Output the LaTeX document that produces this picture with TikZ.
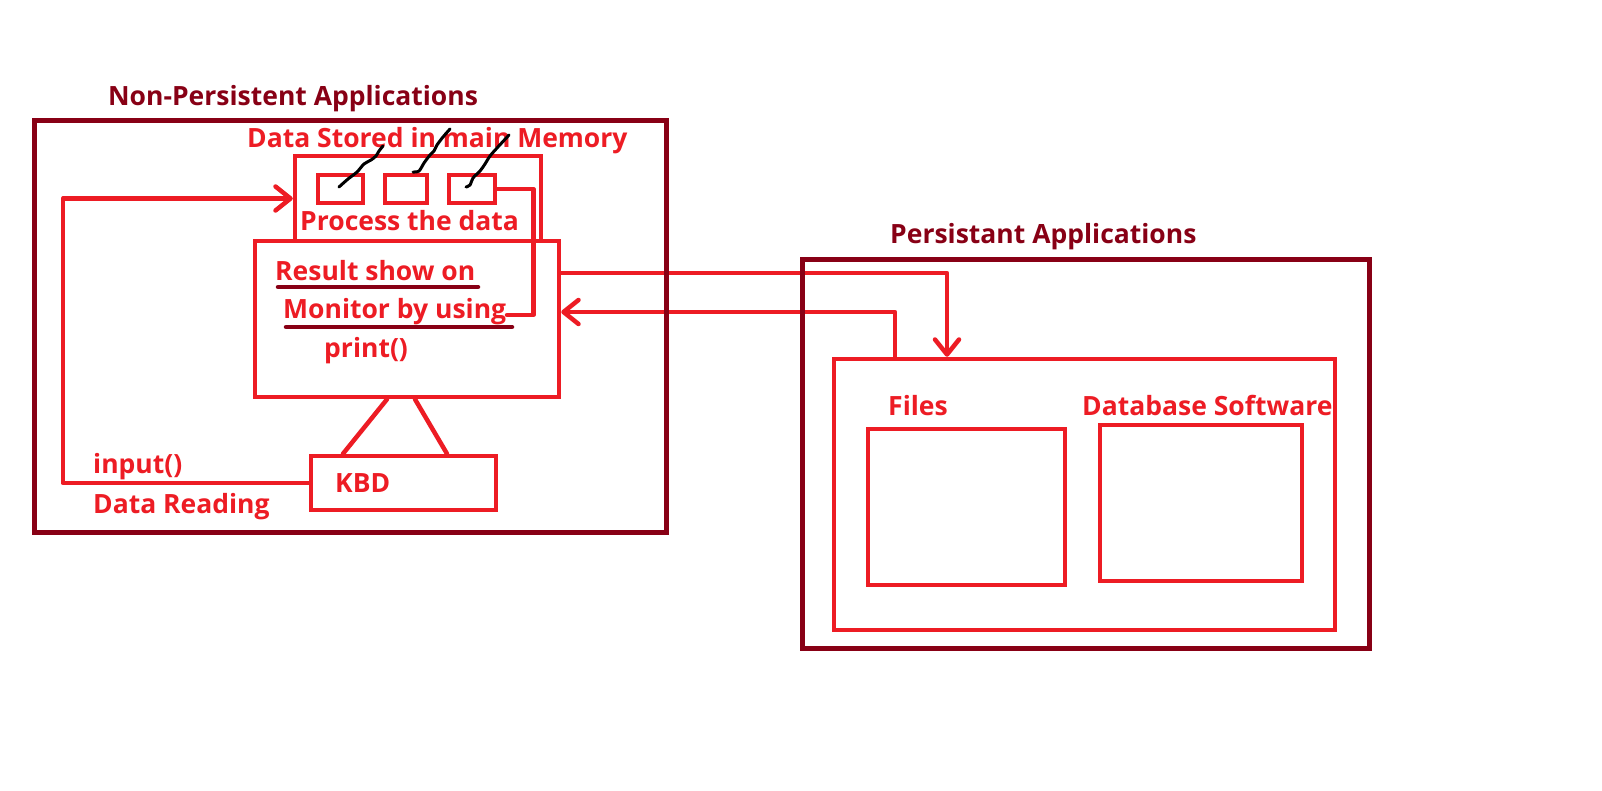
\documentclass[tikz,border=0pt]{standalone}
\usepackage{fontspec}
\setmainfont{Open Sans}
\usetikzlibrary{arrows.meta,calc,fit}
\definecolor{pred}{HTML}{ED1C24}
\definecolor{dred}{HTML}{880015}
\begin{document}
\begin{tikzpicture}[x=1pt,y=-1pt,
  rbox/.style={draw=pred, line width=4.5pt, inner sep=0pt, rectangle},
  dbox/.style={draw=dred, line width=5pt, inner sep=0pt, rectangle},
  conn/.style={draw=pred, line width=4.5pt, line cap=round, line join=round},
  arr/.style={conn, -{Straight Barb[length=15pt,width=24pt,round]}},
  uline/.style={draw=dred, line width=4.5pt, line cap=round},
  scrib/.style={draw=black, line width=3pt, line cap=round, line join=round},
  lab/.style={anchor=base west, inner sep=0pt, text=pred, font=\bfseries\fontsize{26.5}{30}\selectfont},
  dlab/.style={lab, text=dred}]
\fill[white] (0,0) rectangle (1602,790);
\useasboundingbox (0,0) rectangle (1602,790);

% titles
\node[dlab] (tnp) at (108,105) {Non-Persistent Applications};
\node[dlab] (tp) at (890,243) {Persistant Applications};

% left side boxes
\node[rbox, fit={(295,156)(541,241)}] (mem) {};
\node[rbox, fit={(318,175)(363,203)}] (b1) {};
\node[rbox, fit={(385,175)(427,203)}] (b2) {};
\node[rbox, fit={(449,175)(495,203)}] (b3) {};
\node[rbox, fit={(255,241)(559,397)}] (res) {};
\node[rbox, fit={(311,456)(496,510)}] (kbd) {};

\node[lab] (tmem) at (247,147) {Data Stored in main Memory};
\node[lab] (tproc) at (300,230) {Process the data};
\node[lab] (tres1) at (275,280) {Result show on};
\node[lab] (tres2) at (283,318) {Monitor by using};
\node[lab] (tprint) at (324,357) {print()};
\node[lab] (tkbd) at (335,492) {KBD};
\node[lab] (tin) at (93,473) {input()};
\node[lab] (tread) at (93,513) {Data Reading};

\draw[uline] (278,287) -- (478,287);
\draw[uline] (286,327) -- (512,327);

% scribbles
\draw[scrib] plot[smooth, tension=0.5] coordinates {(339,187) (348,179) (357,172) (364,164) (371,160) (376,156) (379,151) (383,146)};
\draw[scrib] plot[smooth, tension=0.5] coordinates {(413,172) (419,171) (424,163) (430,155) (434,151) (437,145) (443,137) (450,129)};
\draw[scrib] plot[smooth, tension=0.5] coordinates {(466,187) (470,185) (473,178) (480,171) (485,164) (490,156) (497,148) (509,135)};

% right side boxes
\node[rbox, fit={(834,359)(1335,630)}] (pin) {};
\node[rbox, fit={(868,429)(1065,585)}] (files) {};
\node[rbox, fit={(1100,425)(1302,581)}] (db) {};
\node[lab] (tfiles) at (888,415) {Files};
\node[lab] (tdb) at (1082,415) {Database Software};

% connectors
\coordinate (mend) at (507,315);
\draw[arr] (kbd.west) -- ++(-246,0) |- (mem.west);
\draw[conn] (b3.east) -- ++(36,0) |- (mend);
\draw[conn] ([xshift=-20pt]res.south) -- ([xshift=-60.5pt]kbd.north);
\draw[conn] ([xshift=8pt]res.south) -- ([xshift=43.5pt]kbd.north);
\draw[arr] ([yshift=46pt]res.east) -| ([xshift=-137.5pt]pin.north);
\draw[arr] ([xshift=-189.5pt]pin.north) |- ([yshift=7pt]res.east);

% outer boxes
\node[dbox, fit={(34,120)(666,532)}] (np) {};
\node[dbox, fit={(802,259)(1369,648)}] (pa) {};
\end{tikzpicture}
\end{document}
